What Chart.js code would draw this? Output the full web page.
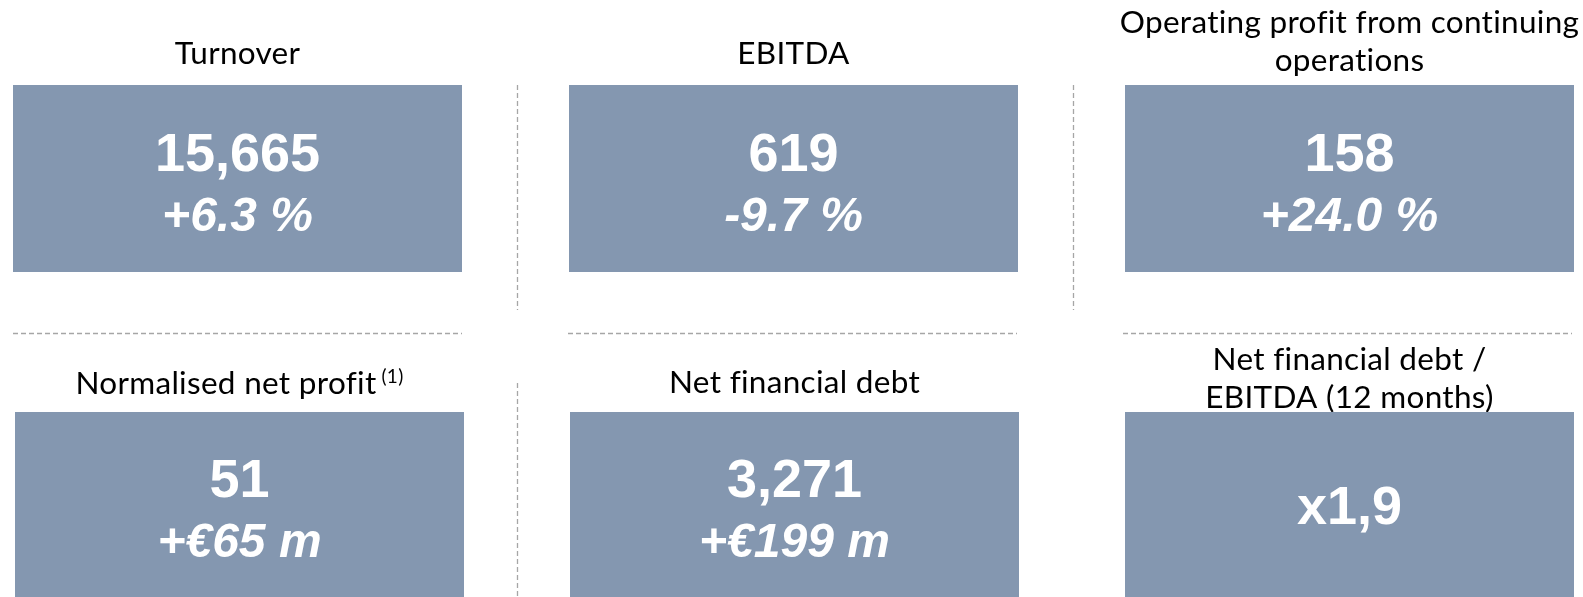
<!DOCTYPE html>
<html>
<head>
<meta charset="utf-8">
<script src="https://cdn.jsdelivr.net/npm/chart.js@4/dist/chart.umd.min.js"></script>
<style>
  html, body { margin: 0; padding: 0; background: #ffffff; }
  #wrap { position: relative; width: 1583px; height: 597px; overflow: hidden; }
  canvas { position: absolute; left: 0; }
  #topRow { top: 0; }
  #bottomRow { top: 300px; }
</style>
</head>
<body>
<div id="wrap">
  <canvas id="bottomRow" width="1583" height="297"></canvas>
  <canvas id="topRow" width="1583" height="312"></canvas>
</div>
<script>
// ---------- DATA ----------
const topTitles = [['Turnover'], ['EBITDA'], ['Operating profit from continuing', 'operations']];
const topNotes = ['', '', ''];
const topValues = ['15,665', '619', '158'];
const topChanges = ['+6.3 %', '-9.7 %', '+24.0 %'];

const bottomTitles = [['Normalised net profit'], ['Net financial debt'], ['Net financial debt /', 'EBITDA (12 months)']];
const bottomNotes = ['(1)', '', ''];
const bottomValues = ['51', '3,271', 'x1,9'];
const bottomChanges = ['+€65 m', '+€199 m', ''];

// each KPI tile spans the full height of its row
const topTiles = [[0, 1], [0, 1], [0, 1]];
const bottomTiles = [[0, 1], [0, 1], [0, 1]];

// ---------- STYLE / LAYOUT ----------
const TILE_COLOR = '#8497B0';
const SEP_COLOR = '#A6A6A6';
const TITLE_FONT = '"Lato", "Open Sans", sans-serif';
const VALUE_FONT = '"Liberation Sans", Arial, sans-serif';
const TITLE_SIZE = 31.5;
const TITLE_SPACING = '0.3px';
const NOTE_SIZE = 19;
const TITLE_LINE = 38;

function kpiPlugin(titles, notes, values, changes, titleGaps, separators) {
  return {
    id: 'kpi',
    beforeDatasetsDraw(chart) {
      const ctx = chart.ctx;
      const bars = chart.getDatasetMeta(0).data;
      ctx.save();
      ctx.fillStyle = '#000000';
      ctx.textBaseline = 'alphabetic';
      if ('letterSpacing' in ctx) ctx.letterSpacing = TITLE_SPACING;
      bars.forEach((bar, i) => {
        const lines = titles[i];
        const top = Math.min(bar.y, bar.base);
        const lastBase = top - titleGaps[i];
        lines.forEach((line, k) => {
          const y = lastBase - (lines.length - 1 - k) * TITLE_LINE;
          ctx.font = `400 ${TITLE_SIZE}px ${TITLE_FONT}`;
          const w = ctx.measureText(line).width;
          let noteW = 0;
          const note = (k === lines.length - 1) ? notes[i] : '';
          if (note) {
            ctx.font = `400 ${NOTE_SIZE}px ${TITLE_FONT}`;
            noteW = ctx.measureText(note).width + 5;
          }
          const x0 = bar.x - (w + noteW) / 2;
          ctx.font = `400 ${TITLE_SIZE}px ${TITLE_FONT}`;
          ctx.textAlign = 'left';
          ctx.fillText(line, x0, y);
          if (note) {
            ctx.font = `400 ${NOTE_SIZE}px ${TITLE_FONT}`;
            ctx.fillText(note, x0 + w + 5, y - 11);
          }
        });
      });
      ctx.restore();
    },
    afterDatasetsDraw(chart) {
      const ctx = chart.ctx;
      const bars = chart.getDatasetMeta(0).data;
      ctx.save();
      ctx.fillStyle = '#ffffff';
      ctx.textAlign = 'center';
      ctx.textBaseline = 'alphabetic';
      bars.forEach((bar, i) => {
        const cy = (bar.y + bar.base) / 2;
        if (changes[i]) {
          ctx.font = `bold 54px ${VALUE_FONT}`;
          ctx.fillText(values[i], bar.x, cy - 7.5);
          ctx.font = `italic bold 48px ${VALUE_FONT}`;
          ctx.fillText(changes[i], bar.x, cy + 52);
        } else {
          ctx.font = `bold 54px ${VALUE_FONT}`;
          ctx.fillText(values[i], bar.x, cy + 19);
        }
      });
      // dashed separators
      ctx.strokeStyle = SEP_COLOR;
      ctx.lineWidth = 1.3;
      ctx.setLineDash([5, 3]);
      separators.vertical.forEach(s => {
        const b = bars[s.after];
        const x = Math.round(b.x + b.width / 2 + s.dx) + 0.5;
        ctx.beginPath();
        ctx.moveTo(x, s.y0);
        ctx.lineTo(x, s.y1);
        ctx.stroke();
      });
      if (separators.horizontalY !== undefined) {
        bars.forEach(b => {
          const y = separators.horizontalY + 0.5;
          ctx.beginPath();
          ctx.moveTo(b.x - b.width / 2 - 2, y);
          ctx.lineTo(b.x + b.width / 2 - 2, y);
          ctx.stroke();
        });
      }
      ctx.restore();
    }
  };
}

function makeRow(id, titles, notes, values, changes, tiles, padding, titleGaps, separators) {
  return new Chart(document.getElementById(id), {
    type: 'bar',
    data: {
      labels: titles.map(t => t.join(' ')),
      datasets: [{
        data: tiles,
        backgroundColor: TILE_COLOR,
        borderWidth: 0,
        barThickness: 449,
        inflateAmount: 0,
        clip: false
      }]
    },
    options: {
      responsive: false,
      animation: false,
      devicePixelRatio: 1,
      layout: { padding },
      plugins: { legend: { display: false }, tooltip: { enabled: false } },
      scales: {
        x: { display: false, offset: false },
        y: { display: false, min: 0, max: 1 }
      }
    },
    plugins: [kpiPlugin(titles, notes, values, changes, titleGaps, separators)]
  });
}

makeRow('topRow', topTitles, topNotes, topValues, topChanges, topTiles,
  { left: 237.5, right: 233.5, top: 85, bottom: 40 },
  [21, 21, 14],
  { vertical: [{ after: 0, dx: 55, y0: 85, y1: 310 }, { after: 1, dx: 55, y0: 85, y1: 310 }] });

makeRow('bottomRow', bottomTitles, bottomNotes, bottomValues, bottomChanges, bottomTiles,
  { left: 239.5, right: 233.5, top: 112, bottom: 0 },
  [18, 19, 4],
  { vertical: [{ after: 0, dx: 53, y0: 83, y1: 297 }], horizontalY: 33 });
</script>
</body>
</html>
